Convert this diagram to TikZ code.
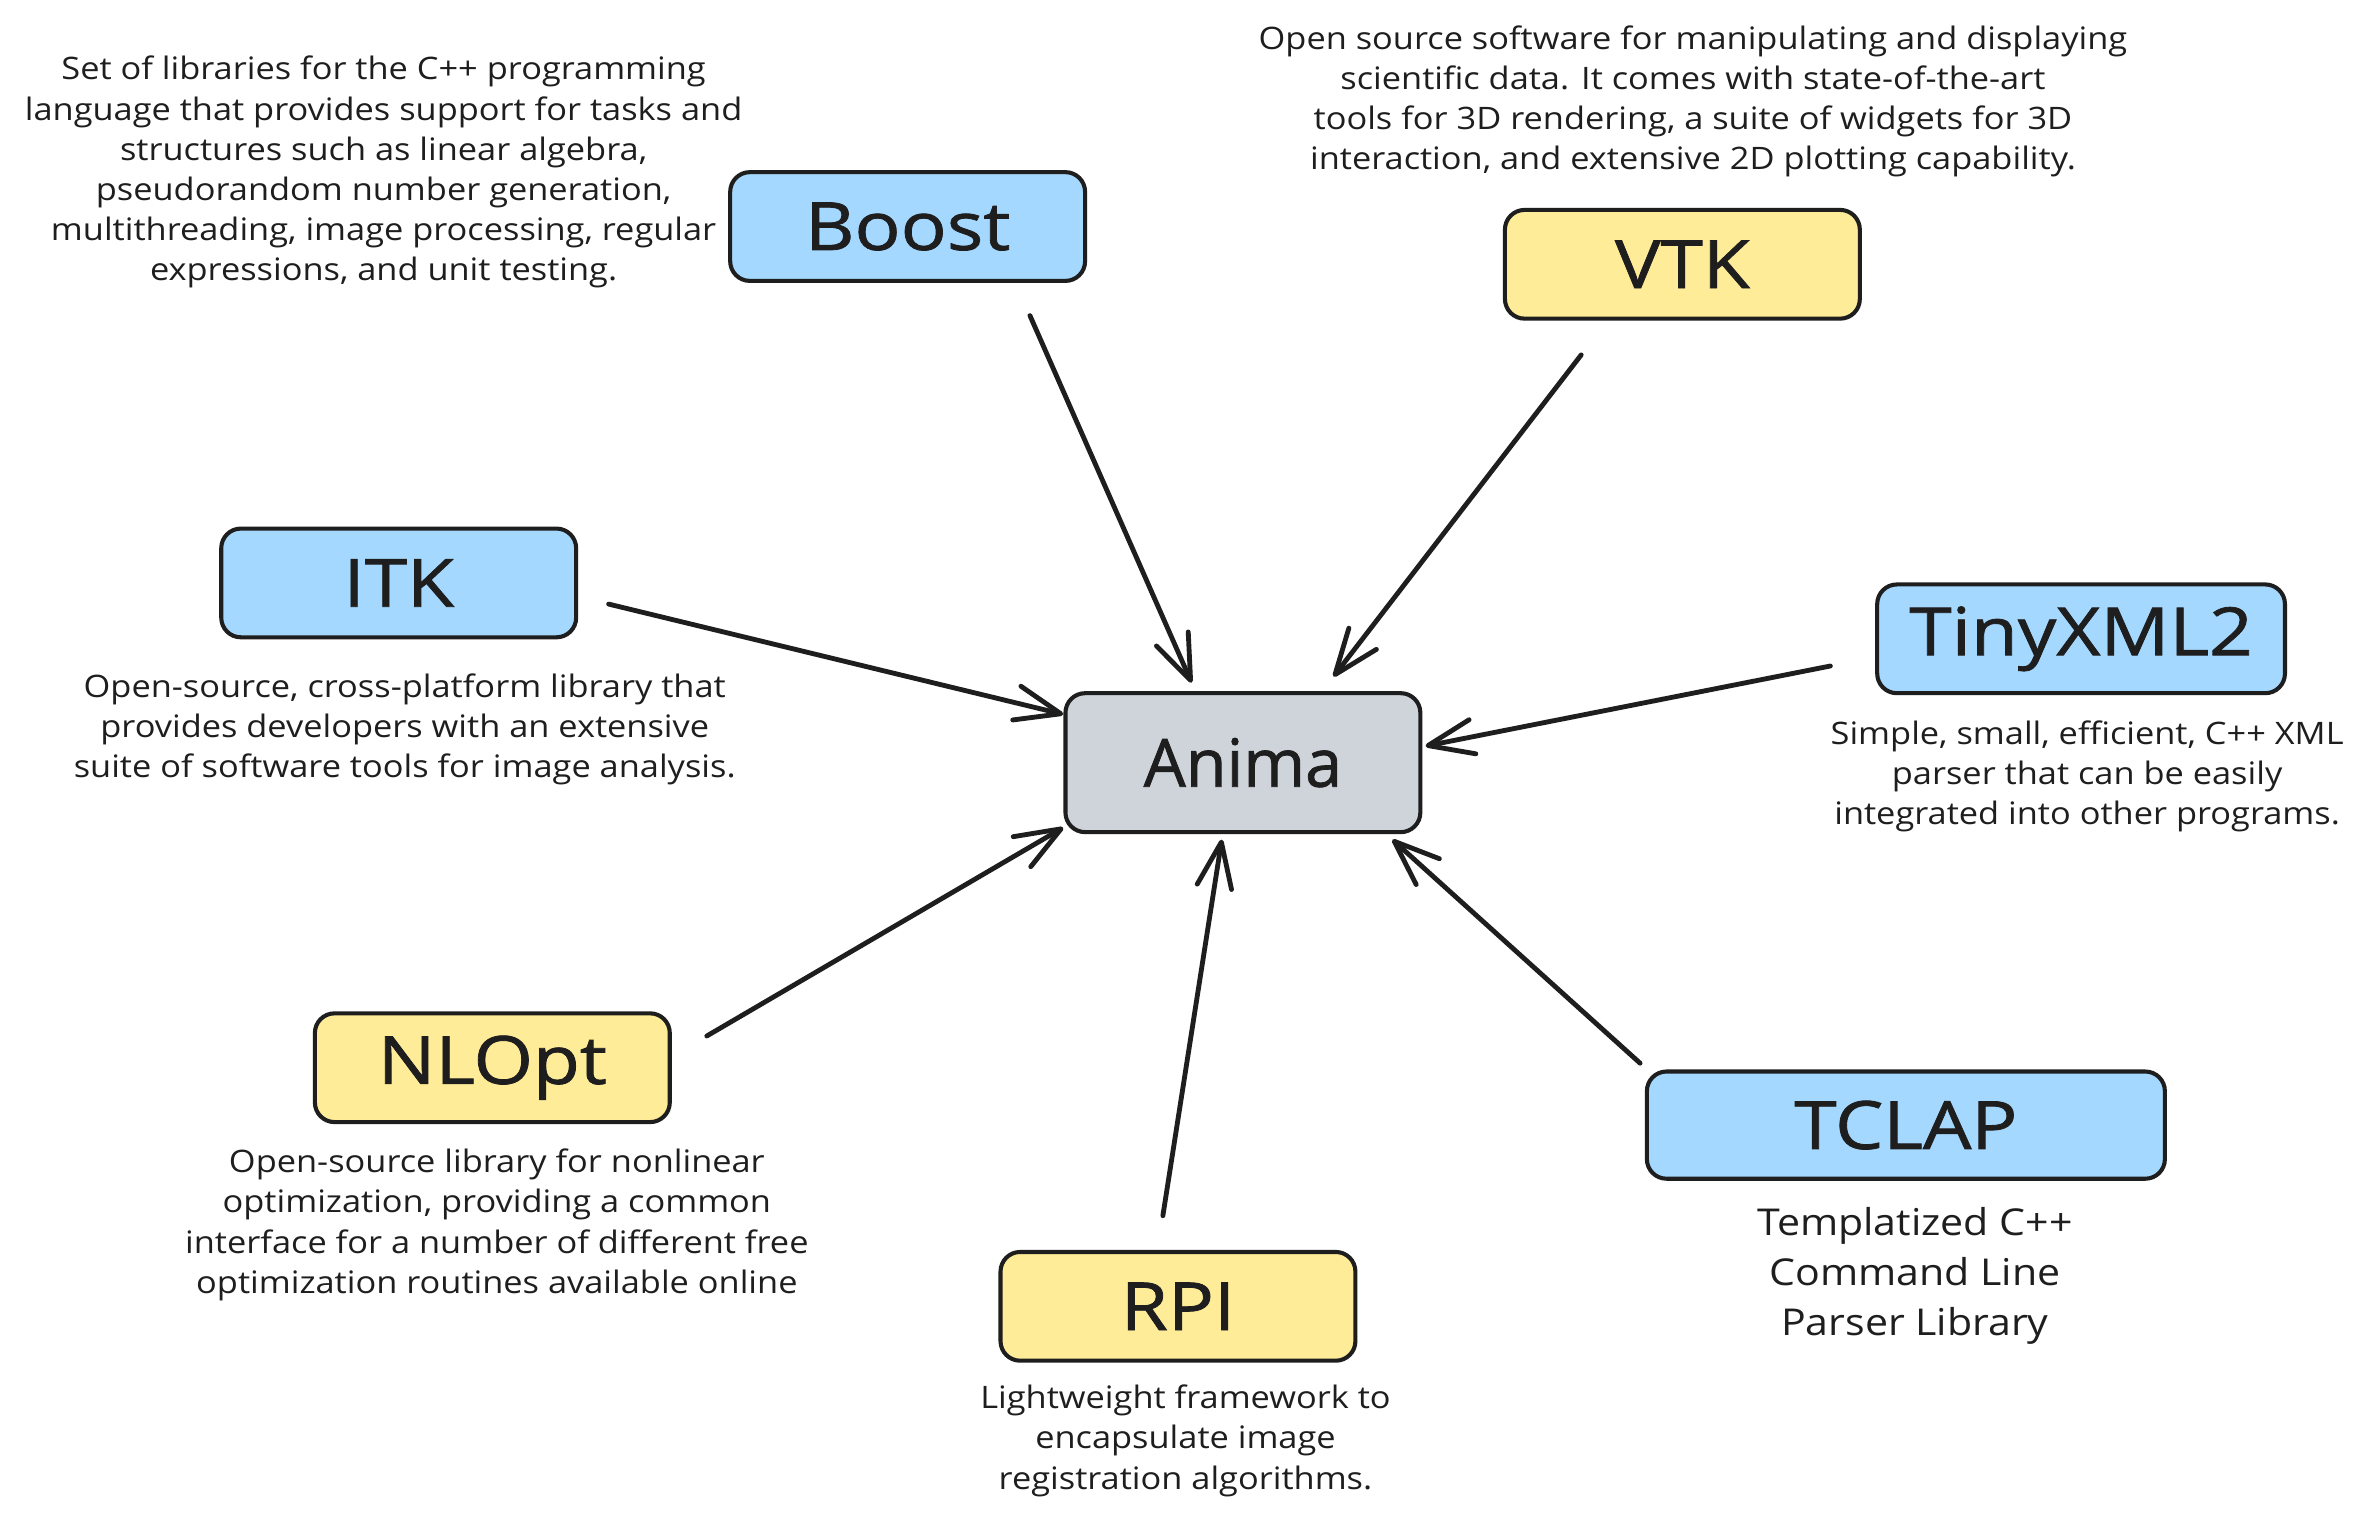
\documentclass[tikz,border=0pt]{standalone}
\usepackage{fontspec}
\setmainfont{Open Sans}
\newfontfamily\titlefont{Open Sans}[FakeStretch=1.15, FakeBold=1.2]
\newfontfamily\animafont{Open Sans}[FakeBold=1.2]
\newfontfamily\descfont{Open Sans}[FakeStretch=1.11]
\usetikzlibrary{arrows.meta}
\definecolor{ink}{HTML}{1E1E1E}
\definecolor{cblue}{HTML}{A5D8FF}
\definecolor{cyellow}{HTML}{FFEC99}
\definecolor{cgray}{HTML}{CED4DA}
\begin{document}
\begin{tikzpicture}[x=1pt,y=-1pt,
  box/.style={draw=ink, line width=2.7pt, rounded corners=13pt, minimum height=72pt,
    minimum width=235pt, inner sep=0pt, font=\titlefont\fontsize{44}{50}\selectfont, text=ink},
  desc/.style={align=center, inner sep=0pt, font=\descfont\fontsize{20.5}{26.6}\selectfont, text=ink},
  link/.style={draw=ink, line width=3.2pt, line cap=round,
    -{Straight Barb[length=30pt,width=23pt,round]}}]
\useasboundingbox (0,0) rectangle (1568,1006);
\fill[white] (0,0) rectangle (1568,1006);

% boxes
\node[box, fill=cblue]   (boost) at (601,150) {Boost};
\node[box, fill=cyellow] (vtk)   at (1114,175) {VTK};
\node[box, fill=cblue]   (itk)   at (264,386) {ITK};
\node[box, fill=cgray, minimum height=92pt, font=\animafont\fontsize{44}{50}\selectfont] (anima) at (823,505) {Anima};
\node[box, fill=cblue, minimum width=270pt] (tiny) at (1378,423) {TinyXML2};
\node[box, fill=cyellow] (nlopt) at (326,707) {NLOpt};
\node[box, fill=cyellow] (rpi)   at (780,865) {RPI};
\node[box, fill=cblue, minimum width=343pt, minimum height=71pt] (tclap) at (1262,745) {TCLAP};

% descriptions
\node[desc] (boostd) at (254,114) {Set of libraries for the C++ programming\\language that provides support for tasks and\\structures such as linear algebra,\\pseudorandom number generation,\\multithreading, image processing, regular\\expressions, and unit testing.};
\node[desc] (vtkd) at (1121,67) {Open source software for manipulating and displaying\\scientific data. It comes with state-of-the-art\\tools for 3D rendering, a suite of widgets for 3D\\interaction, and extensive 2D plotting capability.};
\node[desc] (itkd) at (268,483) {Open-source, cross-platform library that\\provides developers with an extensive\\suite of software tools for image analysis.};
\node[desc] (tinyd) at (1382,514) {Simple, small, efficient, C++ XML\\parser that can be easily\\integrated into other programs.};
\node[desc] (nloptd) at (329,811) {Open-source library for nonlinear\\optimization, providing a common\\interface for a number of different free\\optimization routines available online};
\node[desc] (rpid) at (785,954) {Lightweight framework to\\encapsulate image\\registration algorithms.};
\node[desc, font=\descfont\fontsize{24.5}{33}\selectfont] (tclapd) at (1268,845) {Templatized C++\\Command Line\\Parser Library};

% connector end points
\coordinate (boost-o) at (682,209);  \coordinate (anima-1) at (789,452);
\coordinate (vtk-o)   at (1047,235); \coordinate (anima-2) at (883,448);
\coordinate (itk-o)   at (403,400);  \coordinate (anima-3) at (704,473);
\coordinate (tiny-o)  at (1212,441); \coordinate (anima-4) at (944,494);
\coordinate (nlopt-o) at (468,686);  \coordinate (anima-5) at (704,548);
\coordinate (rpi-o)   at (770,805);  \coordinate (anima-6) at (809,556);
\coordinate (tclap-o) at (1086,704); \coordinate (anima-7) at (922,556);

\draw[link] (boost-o) -- (anima-1);
\draw[link] (vtk-o) -- (anima-2);
\draw[link] (itk-o) -- (anima-3);
\draw[link] (tiny-o) -- (anima-4);
\draw[link] (nlopt-o) -- (anima-5);
\draw[link] (rpi-o) -- (anima-6);
\draw[link] (tclap-o) -- (anima-7);
\end{tikzpicture}
\end{document}
